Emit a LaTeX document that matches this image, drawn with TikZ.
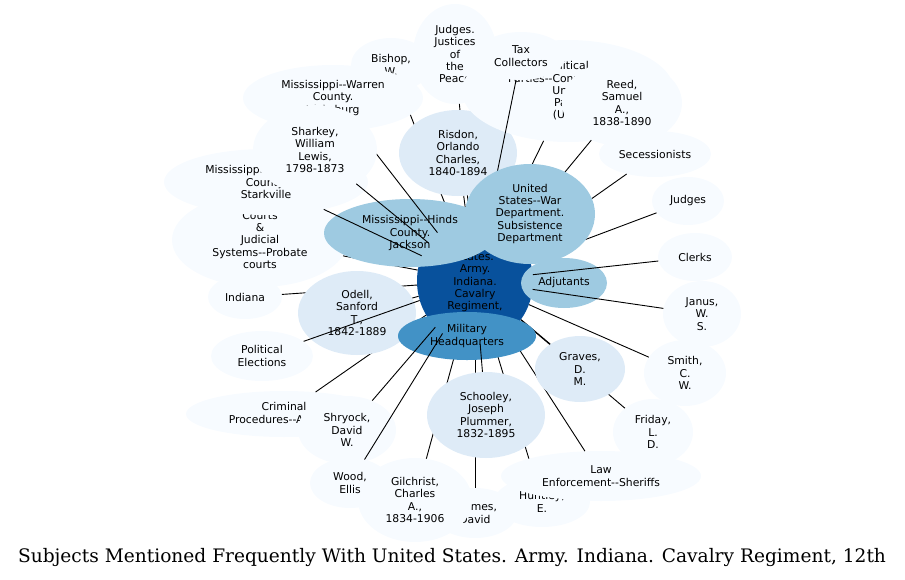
\documentclass[tikz,border=0pt]{standalone}
\usepackage{fontspec}
\newfontfamily\nodefont{DejaVu Sans}
\newfontfamily\titlefont{DejaVu Serif}
\usetikzlibrary{shapes.geometric}
\definecolor{bluefaint}{HTML}{F7FBFF}
\definecolor{bluepale}{HTML}{DEEBF7}
\definecolor{bluemid}{HTML}{9ECAE1}
\definecolor{bluedeep}{HTML}{4292C6}
\definecolor{bluedark}{HTML}{08519C}
\begin{document}
\begin{tikzpicture}[x=1pt, y=-1pt,
  subj/.style={ellipse, inner sep=0pt, align=center, font=\nodefont\fontsize{10.8}{12.3}\selectfont},
  faint/.style={subj, fill=bluefaint},
  pale/.style={subj, fill=bluepale},
  mid/.style={subj, fill=bluemid},
  deep/.style={subj, fill=bluedeep},
  dark/.style={subj, fill=bluedark},
  link/.style={line width=0.9pt}]
\useasboundingbox (0,0) rectangle (905,579);
\node[dark, minimum width=116, minimum height=126] at (475,281) (regt) {United\\States.\\Army.\\Indiana.\\Cavalry\\Regiment,\\12th};
\node[faint, minimum width=80, minimum height=54] at (391,65) (bishop) {Bishop,\\W.};
\draw[link] (regt) -- (bishop);
\node[faint, minimum width=84, minimum height=100] at (455,54) (justices) {Judges.\\Justices\\of\\the\\Peace};
\draw[link] (regt) -- (justices);
\node[pale, minimum width=118, minimum height=86] at (458,153) (risdon) {Risdon,\\Orlando\\Charles,\\1840-1894};
\draw[link] (regt) -- (risdon);
\node[faint, minimum width=212, minimum height=102] at (568,91) (polparty) {Political\\Parties--Constitutional\\Union\\Party\\(U.S.)};
\draw[link] (regt) -- (polparty);
\node[faint, minimum width=90, minimum height=48] at (521,56) (tax) {Tax\\Collectors};
\draw[link] (regt) -- (tax);
\node[faint, minimum width=120, minimum height=86] at (622,103) (reed) {Reed,\\Samuel\\A.,\\1838-1890};
\draw[link] (regt) -- (reed);
\node[faint, minimum width=112, minimum height=46] at (655,154) (secess) {Secessionists};
\draw[link] (regt) -- (secess);
\node[faint, minimum width=72, minimum height=48] at (688,201) (judges) {Judges};
\draw[link] (regt) -- (judges);
\node[faint, minimum width=176, minimum height=94] at (260,240) (courts) {Courts\\\&\\Judicial\\Systems--Probate\\courts};
\draw[link] (regt) -- (courts);
\node[faint, minimum width=74, minimum height=44] at (245,297) (indiana) {Indiana};
\draw[link] (regt) -- (indiana);
\node[faint, minimum width=196, minimum height=46] at (284,414) (crim) {Criminal\\Procedures--Appeals};
\draw[link] (regt) -- (crim);
\node[pale, minimum width=118, minimum height=84] at (357,313) (odell) {Odell,\\Sanford\\T.,\\1842-1889};
\draw[link] (regt) -- (odell);
\node[faint, minimum width=102, minimum height=50] at (262,356) (elect) {Political\\Elections};
\draw[link] (regt) -- (elect);
\node[faint, minimum width=84, minimum height=50] at (475,513) (holmes) {Holmes,\\David};
\draw[link] (regt) -- (holmes);
\node[faint, minimum width=96, minimum height=50] at (542,502) (huntley) {Huntley,\\E.};
\draw[link] (regt) -- (huntley);
\node[faint, minimum width=200, minimum height=50] at (601,476) (sheriffs) {Law\\Enforcement--Sheriffs};
\draw[link] (regt) -- (sheriffs);
\node[faint, minimum width=114, minimum height=84] at (415,500) (gilchrist) {Gilchrist,\\Charles\\A.,\\1834-1906};
\draw[link] (regt) -- (gilchrist);
\node[faint, minimum width=80, minimum height=66] at (653,432) (friday) {Friday,\\L.\\D.};
\draw[link] (regt) -- (friday);
\node[pale, minimum width=90, minimum height=66] at (580,369) (graves) {Graves,\\D.\\M.};
\draw[link] (regt) -- (graves);
\node[mid, minimum width=172, minimum height=68] at (410,233) (hinds) {Mississippi--Hinds\\County.\\Jackson};
\node[mid, minimum width=130, minimum height=100] at (530,214) (war) {United\\States--War\\Department.\\Subsistence\\Department};
\node[mid, minimum width=86, minimum height=50] at (564,283) (adjut) {Adjutants};
\node[faint, minimum width=74, minimum height=48] at (695,257) (clerks) {Clerks};
\draw[link] (regt) -- (clerks);
\node[faint, minimum width=78, minimum height=66] at (702,314) (janus) {Janus,\\W.\\S.};
\draw[link] (regt) -- (janus);
\node[faint, minimum width=82, minimum height=66] at (685,373) (smith) {Smith,\\C.\\W.};
\draw[link] (regt) -- (smith);
\node[faint, minimum width=180, minimum height=66] at (333,98) (warren) {Mississippi--Warren\\County.\\Vicksburg};
\draw[link] (regt) -- (warren);
\node[faint, minimum width=204, minimum height=66] at (266,182) (stark) {Mississippi--Oktibbeha\\County.\\Starkville};
\draw[link] (regt) -- (stark);
\node[faint, minimum width=124, minimum height=90] at (315,150) (sharkey) {Sharkey,\\William\\Lewis,\\1798-1873};
\draw[link] (regt) -- (sharkey);
\node[deep, minimum width=138, minimum height=48] at (467,336) (hq) {Military\\Headquarters};
\node[faint, minimum width=98, minimum height=68] at (347,430) (shryock) {Shryock,\\David\\W.};
\draw[link] (regt) -- (shryock);
\node[faint, minimum width=80, minimum height=50] at (350,483) (wood) {Wood,\\Ellis};
\draw[link] (regt) -- (wood);
\node[pale, minimum width=118, minimum height=86] at (486,415) (schooley) {Schooley,\\Joseph\\Plummer,\\1832-1895};
\draw[link] (regt) -- (schooley);
\node at (452,557) (caption) {\titlefont\fontsize{18.6}{22}\selectfont Subjects Mentioned Frequently With United States. Army. Indiana. Cavalry Regiment, 12th};
\end{tikzpicture}
\end{document}
